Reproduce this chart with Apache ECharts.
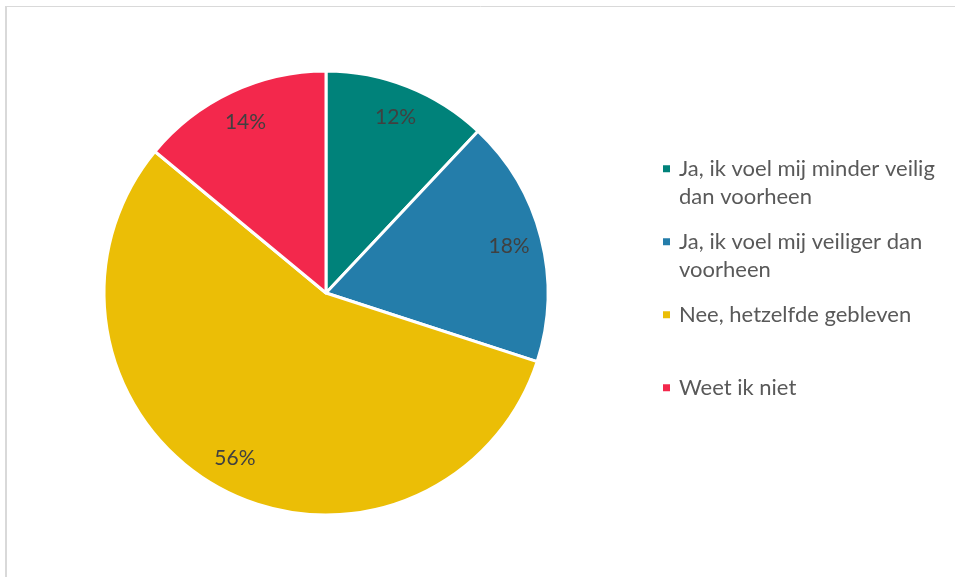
<!DOCTYPE html>
<html>
<head>
<meta charset="utf-8">
<script src="https://cdn.jsdelivr.net/npm/echarts@6/dist/echarts.min.js"></script>
<style>
  html, body { margin: 0; padding: 0; background: #ffffff; }
  #chart { width: 955px; height: 577px; }
</style>
</head>
<body>
<div id="chart"></div>
<script>
// Answer categories and their shares (percent)
const categories = [
  'Ja, ik voel mij minder veilig dan voorheen',
  'Ja, ik voel mij veiliger dan voorheen',
  'Nee, hetzelfde gebleven',
  'Weet ik niet'
];
const values = [12, 18, 56, 14];
// Legend text as it wraps in the legend column
const legendText = [
  'Ja, ik voel mij minder veilig\ndan voorheen',
  'Ja, ik voel mij veiliger dan\nvoorheen',
  'Nee, hetzelfde gebleven',
  'Weet ik niet'
];
const colors = ['#00827A', '#247DAA', '#EBBE06', '#F3284C'];

const FONT = 'Lato, "Open Sans", sans-serif';
const LINE = 28.5;

const chart = echarts.init(document.getElementById('chart'), null, { renderer: 'canvas' });

const pieData = categories.map((name, i) => ({ name, value: values[i] }));

// Each legend entry is a three-line block whose middle line is the first text line,
// so the marker lines up with it and all entries share the same height.
function legendBlock(name) {
  const lines = legendText[categories.indexOf(name)].split('\n');
  return [' ', lines[0], lines[1] || ' '].join('\n');
}

chart.setOption({
  animation: false,
  color: colors,
  graphic: [
    { type: 'line', shape: { x1: 6, y1: 6, x2: 6, y2: 600 }, style: { stroke: '#d9d9d9', lineWidth: 2 } },
    { type: 'line', shape: { x1: 5, y1: 6.5, x2: 960, y2: 6.5 }, style: { stroke: '#d9d9d9', lineWidth: 1 } }
  ],
  legend: {
    orient: 'vertical',
    left: 661,
    top: 126,
    padding: 0,
    itemGap: 73 - 3 * LINE,
    itemWidth: 9,
    itemHeight: 9,
    icon: 'rect',
    selectedMode: false,
    data: categories,
    formatter: legendBlock,
    textStyle: {
      fontFamily: FONT,
      fontSize: 22,
      lineHeight: LINE,
      color: '#595959',
      padding: [0, 0, 0, 3]
    }
  },
  series: [
    {
      type: 'pie',
      center: [326, 293],
      radius: [0, 222],
      startAngle: 90,
      clockwise: true,
      silent: true,
      label: { show: false },
      labelLine: { show: false },
      itemStyle: { borderColor: '#ffffff', borderWidth: 3 },
      data: pieData
    },
    {
      // percentage labels placed in the outer band of each slice
      type: 'pie',
      center: [326, 293],
      radius: [150, 222],
      startAngle: 90,
      clockwise: true,
      silent: true,
      itemStyle: { color: 'rgba(0,0,0,0)' },
      label: {
        show: true,
        position: 'inside',
        formatter: p => p.value + '%',
        fontFamily: FONT,
        fontSize: 21,
        color: '#404040'
      },
      labelLine: { show: false },
      data: pieData
    }
  ]
});
</script>
</body>
</html>
